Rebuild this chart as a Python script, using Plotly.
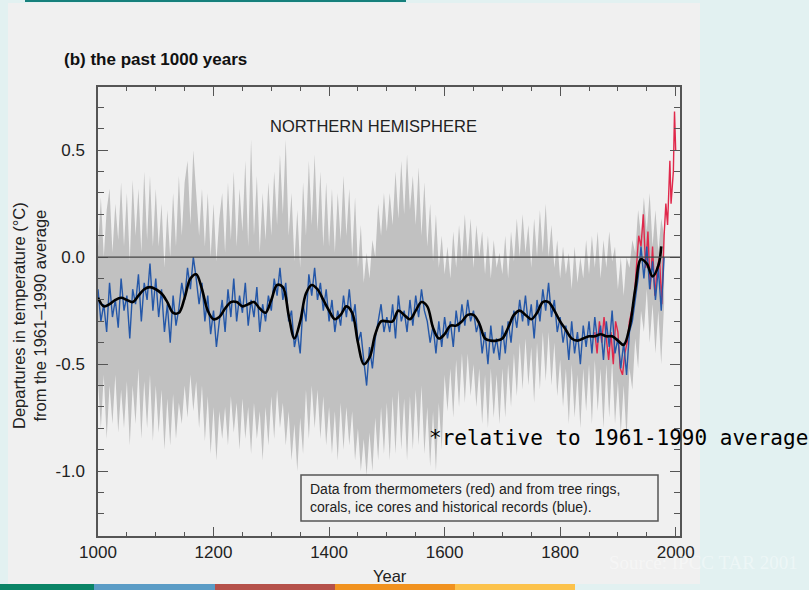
import plotly.graph_objects as go

# ---------------- data ----------------
band_years = list(range(1000, 1985, 5))

blue_vals = [
    -0.15, -0.30, -0.22, -0.35, -0.12, -0.28, -0.20, -0.33, -0.10, -0.25, -0.18, -0.38, -0.15, -0.22, -0.08, -0.30, -0.12, -0.20, -0.03, -0.25,
    -0.10, -0.28, -0.15, -0.35, -0.22, -0.40, -0.18, -0.32, -0.24, -0.12, -0.20, -0.05, -0.15, 0.00, -0.10, -0.22, -0.12, -0.30, -0.18, -0.36,
    -0.25, -0.42, -0.30, -0.20, -0.35, -0.15, -0.28, -0.10, -0.30, -0.18, -0.26, -0.12, -0.32, -0.20, -0.28, -0.14, -0.35, -0.22, -0.30, -0.18,
    -0.25, -0.10, -0.18, -0.05, -0.20, -0.12, -0.30, -0.25, -0.42, -0.35, -0.45, -0.22, -0.30, -0.08, -0.18, -0.05, -0.20, -0.12, -0.25, -0.15,
    -0.30, -0.20, -0.35, -0.25, -0.32, -0.18, -0.28, -0.15, -0.30, -0.22, -0.40, -0.35, -0.48, -0.60, -0.42, -0.52, -0.38, -0.30, -0.22, -0.35,
    -0.28, -0.35, -0.22, -0.38, -0.18, -0.30, -0.25, -0.35, -0.20, -0.32, -0.18, -0.28, -0.15, -0.25, -0.30, -0.40, -0.32, -0.45, -0.30, -0.42,
    -0.28, -0.38, -0.30, -0.42, -0.25, -0.35, -0.22, -0.32, -0.20, -0.30, -0.25, -0.35, -0.30, -0.45, -0.35, -0.50, -0.32, -0.45, -0.38, -0.48,
    -0.32, -0.45, -0.30, -0.40, -0.25, -0.33, -0.20, -0.30, -0.18, -0.32, -0.22, -0.38, -0.20, -0.30, -0.15, -0.25, -0.12, -0.28, -0.20, -0.35,
    -0.28, -0.40, -0.32, -0.48, -0.30, -0.45, -0.35, -0.50, -0.32, -0.42, -0.30, -0.45, -0.28, -0.40, -0.32, -0.48, -0.30, -0.42, -0.25, -0.45,
    -0.38, -0.52, -0.40, -0.55, -0.35, -0.30, -0.20, -0.10, 0.05, -0.10, 0.05, -0.15, -0.02, -0.20, -0.05, -0.25, 0.00,
]

grey_upper = [
    0.05, 0.28, 0.00, 0.22, 0.32, 0.02, 0.25, 0.08, 0.35, 0.05, 0.30, -0.02, 0.36, 0.10, 0.32, 0.02, 0.40, 0.08, 0.38, 0.05,
    0.32, 0.05, 0.25, -0.05, 0.22, 0.00, 0.30, 0.05, 0.38, 0.10, 0.35, 0.45, 0.15, 0.50, 0.30, 0.10, 0.32, 0.05, 0.30, 0.00,
    0.25, -0.02, 0.18, 0.30, 0.02, 0.35, 0.08, 0.40, 0.05, 0.32, 0.12, 0.45, 0.05, 0.55, 0.10, 0.38, 0.02, 0.30, 0.08, 0.35,
    0.10, 0.40, 0.15, 0.48, 0.20, 0.55, 0.10, 0.30, -0.02, 0.22, -0.05, 0.35, 0.10, 0.45, 0.15, 0.48, 0.12, 0.40, 0.05, 0.35,
    0.05, 0.32, 0.02, 0.30, 0.08, 0.38, 0.10, 0.32, 0.00, 0.28, -0.05, 0.15, -0.12, 0.02, -0.10, 0.08, 0.00, 0.25, 0.10, 0.30,
    0.12, 0.30, 0.15, 0.40, 0.18, 0.45, 0.20, 0.48, 0.22, 0.38, 0.15, 0.42, 0.10, 0.35, 0.05, 0.25, -0.02, 0.20, -0.05, 0.10,
    -0.08, 0.05, -0.10, 0.12, -0.05, 0.15, -0.02, 0.20, 0.00, 0.18, -0.05, 0.15, 0.00, 0.12, -0.08, 0.10, -0.10, 0.08, -0.05, 0.02,
    -0.08, 0.10, -0.10, 0.12, -0.02, 0.18, 0.00, 0.20, 0.02, 0.15, -0.05, 0.18, 0.00, 0.22, 0.02, 0.25, 0.00, 0.15, -0.05, 0.08,
    -0.10, 0.05, -0.08, 0.02, -0.15, 0.05, -0.12, 0.00, -0.10, 0.08, -0.08, 0.10, -0.05, 0.12, -0.10, 0.08, -0.05, 0.12, -0.02, 0.05,
    -0.15, 0.00, -0.18, 0.00, -0.05, 0.08, 0.02, 0.22, 0.10, 0.28, 0.12, 0.30, 0.05, 0.22, 0.02, 0.18, 0.10,
]

grey_lower = [
    -0.58, -0.80, -0.55, -0.85, -0.60, -0.78, -0.55, -0.82, -0.62, -0.80, -0.58, -0.88, -0.60, -0.78, -0.52, -0.85, -0.58, -0.80, -0.55, -0.86,
    -0.60, -0.82, -0.62, -0.90, -0.66, -0.88, -0.64, -0.85, -0.68, -0.78, -0.60, -0.75, -0.55, -0.72, -0.58, -0.80, -0.60, -0.86, -0.65, -0.92,
    -0.70, -0.95, -0.72, -0.85, -0.70, -0.88, -0.65, -0.82, -0.68, -0.90, -0.66, -0.85, -0.70, -0.92, -0.68, -0.85, -0.72, -0.95, -0.70, -0.88,
    -0.65, -0.85, -0.62, -0.80, -0.68, -0.88, -0.72, -0.95, -0.78, -1.00, -0.75, -0.92, -0.62, -0.85, -0.60, -0.80, -0.62, -0.85, -0.65, -0.88,
    -0.70, -0.92, -0.72, -0.95, -0.68, -0.90, -0.70, -0.88, -0.72, -0.95, -0.80, -1.00, -0.85, -1.02, -0.82, -1.00, -0.75, -0.95, -0.70, -0.92,
    -0.68, -0.95, -0.65, -0.92, -0.62, -0.90, -0.66, -0.95, -0.65, -0.90, -0.62, -0.88, -0.60, -0.92, -0.70, -0.98, -0.72, -1.00, -0.68, -0.90,
    -0.55, -0.72, -0.52, -0.75, -0.48, -0.70, -0.45, -0.68, -0.45, -0.65, -0.50, -0.70, -0.52, -0.78, -0.55, -0.80, -0.52, -0.75, -0.55, -0.78,
    -0.52, -0.75, -0.50, -0.70, -0.45, -0.65, -0.40, -0.62, -0.38, -0.60, -0.42, -0.68, -0.40, -0.62, -0.35, -0.58, -0.35, -0.60, -0.40, -0.65,
    -0.48, -0.70, -0.52, -0.78, -0.50, -0.75, -0.55, -0.80, -0.52, -0.72, -0.50, -0.78, -0.48, -0.72, -0.52, -0.80, -0.50, -0.75, -0.48, -0.78,
    -0.58, -0.82, -0.60, -0.85, -0.52, -0.62, -0.38, -0.52, -0.25, -0.35, -0.15, -0.40, -0.22, -0.45, -0.25, -0.50, -0.22,
]

smooth_years = list(range(1000, 1971, 10)) + [1975]
smooth_vals = [
    -0.19, -0.23, -0.22, -0.20, -0.19, -0.20, -0.21, -0.18, -0.15, -0.14,
    -0.15, -0.17, -0.21, -0.26, -0.26, -0.19, -0.10, -0.08, -0.15, -0.25,
    -0.29, -0.28, -0.24, -0.21, -0.21, -0.23, -0.22, -0.21, -0.24, -0.26,
    -0.20, -0.13, -0.14, -0.27, -0.38, -0.30, -0.17, -0.13, -0.15, -0.20,
    -0.25, -0.29, -0.27, -0.23, -0.26, -0.40, -0.50, -0.47, -0.36, -0.30,
    -0.30, -0.30, -0.25, -0.27, -0.29, -0.25, -0.21, -0.23, -0.33, -0.38,
    -0.36, -0.32, -0.32, -0.30, -0.27, -0.27, -0.31, -0.38, -0.39, -0.39,
    -0.38, -0.33, -0.27, -0.25, -0.27, -0.29, -0.26, -0.21, -0.21, -0.25,
    -0.30, -0.34, -0.38, -0.39, -0.38, -0.37, -0.37, -0.36, -0.37, -0.37,
    -0.39, -0.41, -0.33, -0.15, -0.01, -0.03, -0.09, -0.04, 0.05,
]

red_years = [1860, 1864, 1868, 1872, 1876, 1880, 1884, 1888, 1892, 1896, 1900, 1904, 1908, 1912, 1916,
             1920, 1924, 1928, 1932, 1936, 1940, 1944, 1948, 1952, 1956, 1960, 1964, 1968, 1972, 1976,
             1980, 1983, 1986, 1988, 1990, 1992, 1994, 1996, 1998, 2000]
red_vals = [-0.35, -0.45, -0.30, -0.40, -0.28, -0.38, -0.48, -0.35, -0.50, -0.30, -0.35, -0.52, -0.55, -0.45, -0.40,
            -0.30, -0.25, -0.20, -0.05, 0.10, 0.05, 0.20, -0.05, 0.12, -0.15, 0.05, -0.18, -0.05, 0.00, -0.22,
            0.10, 0.25, 0.15, 0.30, 0.45, 0.25, 0.35, 0.40, 0.68, 0.50]

x_ticks = [1000, 1200, 1400, 1600, 1800, 2000]
y_ticks = [-1.0, -0.5, 0.0, 0.5]
y_tick_labels = ["-1.0", "-0.5", "0.0", "0.5"]

# ---------------- layout helpers (pixel -> paper) ----------------
W, H = 809, 590
L, R, T, B = 98, 680, 87, 536


def px(p):
    return (p - L) / (R - L)


def py(p):
    return (B - p) / (B - T)


fig = go.Figure()

fig.add_trace(go.Scatter(x=band_years, y=grey_upper, mode="lines",
                         line=dict(width=0, color="rgb(192,192,192)"),
                         hoverinfo="skip", showlegend=False))
fig.add_trace(go.Scatter(x=band_years, y=grey_lower, mode="lines",
                         line=dict(width=0, color="rgb(192,192,192)"),
                         fill="tonexty", fillcolor="rgb(193,193,193)",
                         hoverinfo="skip", showlegend=False))
fig.add_trace(go.Scatter(x=red_years, y=red_vals, mode="lines",
                         line=dict(width=1.4, color="#e0284b"), showlegend=False))
fig.add_trace(go.Scatter(x=band_years, y=blue_vals, mode="lines",
                         line=dict(width=1.4, color="#2457a8"), showlegend=False))
fig.add_trace(go.Scatter(x=smooth_years, y=smooth_vals, mode="lines",
                         line=dict(width=2.6, color="#000000", shape="spline"),
                         showlegend=False))

axis_col = "#555555"
fig.update_xaxes(range=[1000, 2007.5], tickvals=x_ticks, ticks="inside", ticklen=9,
                 tickcolor=axis_col, tickwidth=1.2, showline=True, linecolor=axis_col,
                 linewidth=1.5, mirror="ticks", showgrid=False, zeroline=False,
                 minor=dict(dtick=50, tick0=1000, ticks="inside", ticklen=4,
                            tickcolor=axis_col, tickwidth=1.2, showgrid=False),
                 tickfont=dict(family="Liberation Sans, Arial", size=17, color="#222"),
                 ticklabelstandoff=0)
fig.update_yaxes(range=[-1.303, 0.795], tickvals=y_ticks, ticktext=y_tick_labels,
                 ticks="inside", ticklen=10, tickcolor=axis_col, tickwidth=1.2,
                 showline=True, linecolor=axis_col, linewidth=1.5, mirror="ticks",
                 showgrid=False, zeroline=False,
                 minor=dict(dtick=0.1, tick0=0, ticks="inside", ticklen=6,
                            tickcolor=axis_col, tickwidth=1.2, showgrid=False),
                 tickfont=dict(family="Liberation Sans, Arial", size=17, color="#222"),
                 ticklabelstandoff=8)

shapes = [
    # grey panel
    dict(type="rect", xref="paper", yref="paper", x0=px(8), x1=px(700), y0=py(584), y1=py(3),
         fillcolor="#f0f0f0", line=dict(width=0), layer="below"),
    # teal top line
    dict(type="rect", xref="paper", yref="paper", x0=px(25), x1=px(406), y0=py(2), y1=py(0),
         fillcolor="#16807c", line=dict(width=0), layer="below"),
    # zero line
    dict(type="line", xref="paper", yref="y", x0=0, x1=1, y0=0, y1=0,
         line=dict(color="#444", width=1.2)),
    # legend box
    dict(type="rect", xref="paper", yref="paper", x0=px(301), x1=px(658), y0=py(521), y1=py(475),
         fillcolor="#f0f0f0", line=dict(color="#555", width=1.5)),
]
bar_cols = [("#0a8466", 0, 94), ("#5b9cc6", 94, 215), ("#b5514a", 215, 335),
            ("#f1921f", 335, 455), ("#fcc24b", 455, 575)]
for c, a, b in bar_cols:
    shapes.append(dict(type="rect", xref="paper", yref="paper", x0=px(a), x1=px(b),
                       y0=py(590), y1=py(584), fillcolor=c, line=dict(width=0), layer="below"))

annotations = [
    dict(text="<b>(b) the past 1000 years</b>", x=px(62), y=py(60), xref="paper", yref="paper",
         xanchor="left", yanchor="middle", showarrow=False,
         font=dict(family="Liberation Sans, Arial", size=17, color="#111")),
    dict(text="NORTHERN HEMISPHERE", x=px(373), y=py(126), xref="paper", yref="paper",
         xanchor="center", yanchor="middle", showarrow=False,
         font=dict(family="Liberation Sans, Arial", size=16.5, color="#222")),
    dict(text="Departures in temperature (°C)<br>from the 1961–1990 average", x=px(29), y=py(316),
         xref="paper", yref="paper", xanchor="center", yanchor="middle", textangle=-90,
         showarrow=False, font=dict(family="Liberation Sans, Arial", size=16.5, color="#222")),
    dict(text="Year", x=px(390), y=py(576), xref="paper", yref="paper", xanchor="center",
         yanchor="middle", showarrow=False,
         font=dict(family="Liberation Sans, Arial", size=16.5, color="#222")),
    dict(text="Data from thermometers (red) and from tree rings,<br>corals, ice cores and historical records (blue).",
         x=px(308), y=py(498), xref="paper", yref="paper", xanchor="left", yanchor="middle",
         align="left", showarrow=False,
         font=dict(family="Liberation Sans, Arial", size=14, color="#222")),
    dict(text="*relative to 1961-1990 average", x=px(427), y=py(438), xref="paper", yref="paper",
         xanchor="left", yanchor="middle", showarrow=False,
         font=dict(family="DejaVu Sans Mono", size=21, color="#000")),
    dict(text="Source: IPCC TAR 2001", x=px(607), y=py(562), xref="paper", yref="paper",
         xanchor="left", yanchor="middle", showarrow=False,
         font=dict(family="Liberation Serif, Times New Roman", size=19,
                   color="rgba(255,255,255,0.4)")),
]

fig.update_layout(width=W, height=H, margin=dict(l=L, r=W - R, t=T, b=H - B),
                  paper_bgcolor="#e2f1f1", plot_bgcolor="rgba(0,0,0,0)",
                  shapes=shapes, annotations=annotations, showlegend=False)

fig.write_html("out.html")
